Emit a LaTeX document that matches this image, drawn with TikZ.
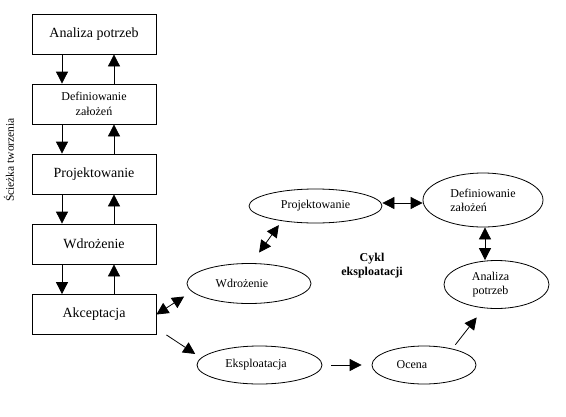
\documentclass[tikz,border=0pt]{standalone}
\usepackage{fontspec}
\setmainfont{Liberation Serif}
\usetikzlibrary{shapes.geometric,arrows.meta}
\begin{document}
\begin{tikzpicture}[x=1pt,y=-1pt,
  box/.style={draw,line width=0.8pt,minimum width=124pt,minimum height=40pt,inner sep=1pt,font=\fontsize{14}{16}\selectfont,align=center},
  ell/.style={draw,ellipse,line width=0.8pt,inner sep=1pt,font=\fontsize{12}{14}\selectfont},
  tip/.tip={Triangle[length=12pt,width=12pt]},
  con/.style={line width=0.8pt,-tip},
  dcon/.style={line width=0.8pt,tip-tip},
]
\useasboundingbox (0,0) rectangle (566,416);
% left column
\node[box] (b1) at (94,34) {Analiza potrzeb};
\node[box,font=\fontsize{12}{14.5}\selectfont] (b2) at (94,104) {Definiowanie\\założeń};
\node[box] (b3) at (94,174) {Projektowanie};
\node[box] (b4) at (94,244) {Wdrożenie};
\node[box] (b5) at (94,314.5) {Akceptacja};
\foreach \a/\b in {b1/b2,b2/b3,b3/b4,b4/b5}{
  \draw[con] ([xshift=-32pt]\a.south) -- ([xshift=-32pt]\b.north);
  \draw[con] ([xshift=20pt]\b.north) -- ([xshift=20pt]\a.south);
}
\node[rotate=90,font=\fontsize{11.5}{13}\selectfont] (sciezka) at (9,160) {Ścieżka tworzenia};
% cycle
\node[ell,minimum width=133pt,minimum height=34pt] (pr) at (315.5,206) {Projektowanie};
\node[ell,minimum width=120pt,minimum height=54pt,align=left] (def) at (483,200) {Definiowanie\\założeń};
\node[ell,minimum width=105pt,minimum height=48pt,align=center] (an) at (496.5,284.5) {\hspace*{-12pt}Analiza\\\hspace*{-12pt}potrzeb};
\node[ell,minimum width=124pt,minimum height=40pt] (wd) at (249,283.5) {\hspace*{-14pt}Wdrożenie};
\node[ell,minimum width=125pt,minimum height=38pt] (eks) at (259.5,365) {\hspace*{-7pt}Eksploatacja};
\node[ell,minimum width=104pt,minimum height=38pt] (oc) at (424,365) {\hspace*{-24pt}Ocena};
\node[font=\bfseries\fontsize{12}{14}\selectfont,align=center] (cykl) at (372,266) {Cykl\\eksploatacji};
% connectors
\draw[dcon,shorten >=9pt] (b5.east) -- (wd.188);
\draw[dcon,shorten <=13pt,shorten >=5pt] (wd.83) -- (pr.204);
\draw[dcon] ([yshift=3pt]pr.east) -- ([yshift=-3pt]def.west);
\draw[dcon] ([xshift=2pt]def.south) -- ([xshift=-11.5pt]an.north);
\draw[con,shorten >=7pt] ([xshift=10pt]b5.south east) -- (eks.173);
\draw[con,shorten <=9pt,shorten >=10pt] (eks.east) -- (oc.west);
\draw[con,shorten <=5pt,shorten >=11.7pt] (oc.30) -- (an.242);
\end{tikzpicture}
\end{document}
